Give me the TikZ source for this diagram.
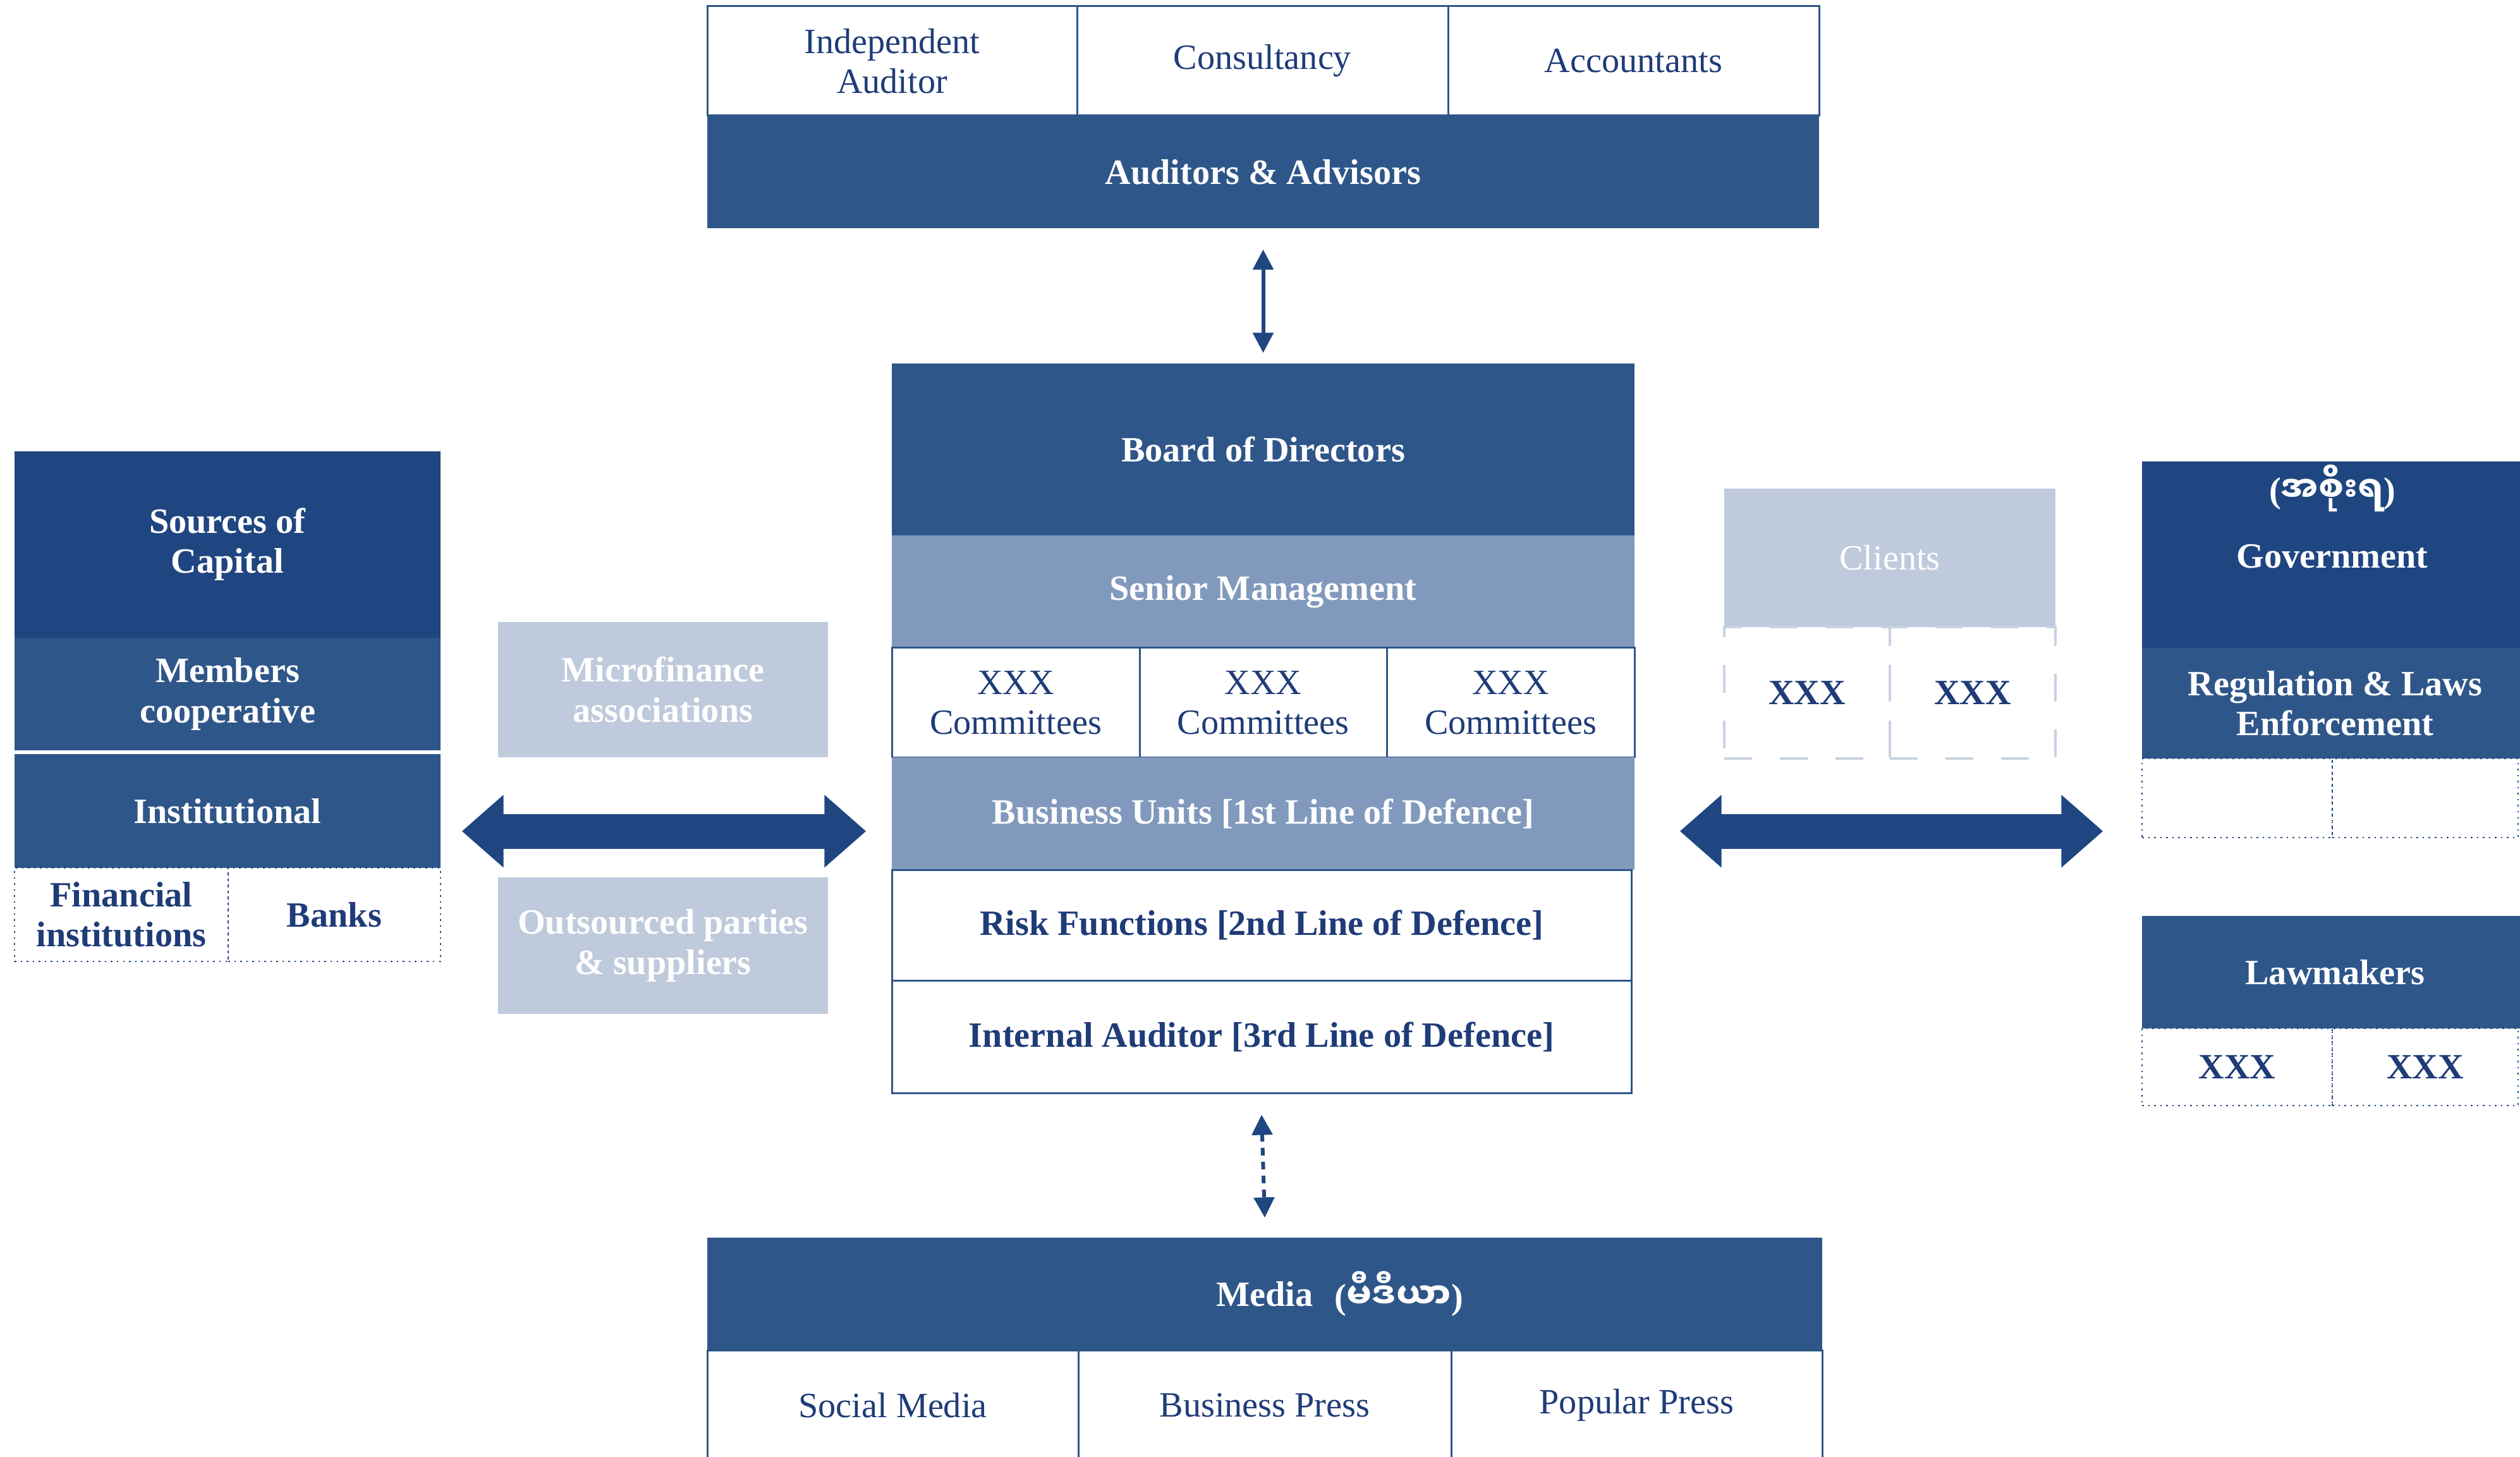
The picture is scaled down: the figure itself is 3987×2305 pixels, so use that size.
\documentclass[tikz,border=0pt]{standalone}
\usepackage{fontspec}
\setmainfont{Liberation Serif}
\newfontfamily\mmfont[Script=Myanmar]{Noto Sans Myanmar UI}
\usetikzlibrary{arrows.meta,calc,positioning}

\definecolor{navy}{HTML}{1F4680}
\definecolor{blueB}{HTML}{2F5689}
\definecolor{midC}{HTML}{8199BC}
\definecolor{lightD}{HTML}{BFCADC}
\definecolor{textN}{HTML}{1F3C78}
\definecolor{paleline}{HTML}{C8D2E2}

\def\lbl{\fontsize{16}{18}\selectfont}

\tikzset{
  every node/.style={inner sep=0pt,align=center},
  span/.style n args={4}{at={({(#1+#3)/2},{(#2+#4)/2})},
    minimum width={(#3-#1)*0.1mm},minimum height={(#4-#2)*0.1mm}},
  whitecell/.style={fill=white,draw=blueB,line width=0.3mm,text=textN,font=\lbl},
  linebox/.style={fill=white,draw=blueB,line width=0.3mm,text=textN,font=\lbl\bfseries},
  bluebox/.style={fill=blueB,text=white,font=\lbl\bfseries},
  navybox/.style={fill=navy,text=white,font=\lbl\bfseries},
  midbox/.style={fill=midC,text=white,font=\lbl\bfseries},
  lightbox/.style={fill=lightD,text=white,font=\lbl\bfseries},
  dotcell/.style={draw=navy,dotted,line width=0.25mm,text=textN,font=\lbl\bfseries},
  dashcell/.style={draw=paleline,dash pattern=on 4.4mm off 4.4mm,line width=0.4mm,text=textN,font=\lbl\bfseries},
  thinarrow/.style={draw=navy,line width=0.6mm,{Triangle[length=3.2mm,width=3.2mm]}-{Triangle[length=3.2mm,width=3.2mm]}},
  bigarrow/.style={draw=navy,line width=5.5mm,{Triangle[length=6.6mm,width=11.1mm]}-{Triangle[length=6.6mm,width=11.1mm]}}
}

\begin{document}
\begin{tikzpicture}[x=0.1mm,y=-0.1mm]
\useasboundingbox (0,0) rectangle (3987,2305);
\clip (0,0) rectangle (3987,2305);

% auditors and advisors
\node[whitecell,span={1119}{10}{1704}{183}] (indep) {Independent\\Auditor};
\node[whitecell,span={1704}{10}{2291}{183}] (consult) {Consultancy};
\node[whitecell,span={2291}{10}{2878}{183}] (account) {Accountants};
\node[bluebox,span={1119}{183}{2878}{361}] (advisors) {Auditors \& Advisors};

% central stack
\node[bluebox,span={1411}{575}{2586}{847}] (board) {Board of Directors};
\node[midbox,span={1411}{847}{2586}{1025}] (senior) {Senior Management};
\foreach \a/\b [count=\i] in {1411/1803,1803/2194,2194/2586}
  \node[whitecell,span={\a}{1025}{\b}{1198}] (comm\i) {XXX\\Committees};
\node[midbox,span={1411}{1198}{2586}{1376}] (units) {Business Units [1st Line of Defence]};
\node[linebox,span={1411}{1376}{2581}{1551}] (risk) {Risk Functions [2nd Line of Defence]};
\node[linebox,span={1411}{1551}{2581}{1729}] (internal) {Internal Auditor [3rd Line of Defence]};

% media
\node[bluebox,span={1119}{1958}{2883}{2136}] (media) {};
\node[text=white,font=\lbl\bfseries] (medialbl) at (media) {Media};
\node[text=white,font=\lbl\bfseries,right=3.3mm of medialbl] (mediamm) {(\mmfont မီဒီယာ\rmfamily)};
\foreach \a/\b/\t [count=\i] in {1119/1706/Social Media,1706/2296/Business Press,2296/2883/Popular Press}
  \node[whitecell,span={\a}{2136}{\b}{2310}] (press\i) {\t};

% sources of capital
\node[navybox,span={23}{714}{697}{1009}] (capital) {Sources of\\Capital};
\node[bluebox,span={23}{1009}{697}{1187}] (members) {Members\\cooperative};
\node[bluebox,span={23}{1193}{697}{1373}] (inst) {Institutional};
\node[dotcell,span={23}{1373}{361}{1521}] (fin) {Financial\\institutions};
\node[dotcell,span={361}{1373}{697}{1521}] (banks) {Banks};

% partners
\node[lightbox,span={788}{984}{1310}{1198}] (micro) {Microfinance\\associations};
\node[lightbox,span={788}{1388}{1310}{1604}] (outsrc) {Outsourced parties\\\& suppliers};

% clients
\node[lightbox,font=\lbl,span={2728}{773}{3252}{992}] (clients) {Clients};
\node[dashcell,span={2728}{992}{2990}{1200}] (cli1) {XXX};
\node[dashcell,span={2990}{992}{3252}{1200}] (cli2) {XXX};

% government
\node[navybox,span={3389}{730}{4000}{1025}] (gov) {};
\node[text=white,font=\lbl\bfseries] (govmm) at (3690,772) {(\mmfont အစိုးရ\rmfamily)};
\node[text=white,font=\lbl\bfseries] (govlbl) at (3690,880) {Government};
\node[bluebox,span={3389}{1025}{4000}{1200}] (regul) {Regulation \& Laws\\Enforcement};
\node[dotcell,span={3389}{1200}{3690}{1325}] (gcell1) {};
\node[dotcell,span={3690}{1200}{3984}{1325}] (gcell2) {};
\node[bluebox,span={3389}{1449}{4000}{1627}] (lawmk) {Lawmakers};
\node[dotcell,span={3389}{1627}{3690}{1749}] (lcell1) {XXX};
\node[dotcell,span={3690}{1627}{3984}{1749}] (lcell2) {XXX};

% connectors
\coordinate (armY) at (0,1315);
\draw[thinarrow] ($(advisors.south)+(0,33)$) -- ($(board.north)+(0,-16)$);
\draw[thinarrow,dash pattern=on 1.2mm off 1mm] ($(internal.south)+(0,33)$) -- ($(media.north)+(0,-31)$);
\draw[bigarrow] ($(inst.east |- armY)+(33,0)$) -- ($(units.west |- armY)+(-40,0)$);
\draw[bigarrow] ($(units.east |- armY)+(71,0)$) -- ($(regul.west |- armY)+(-61,0)$);

\end{tikzpicture}
\end{document}
